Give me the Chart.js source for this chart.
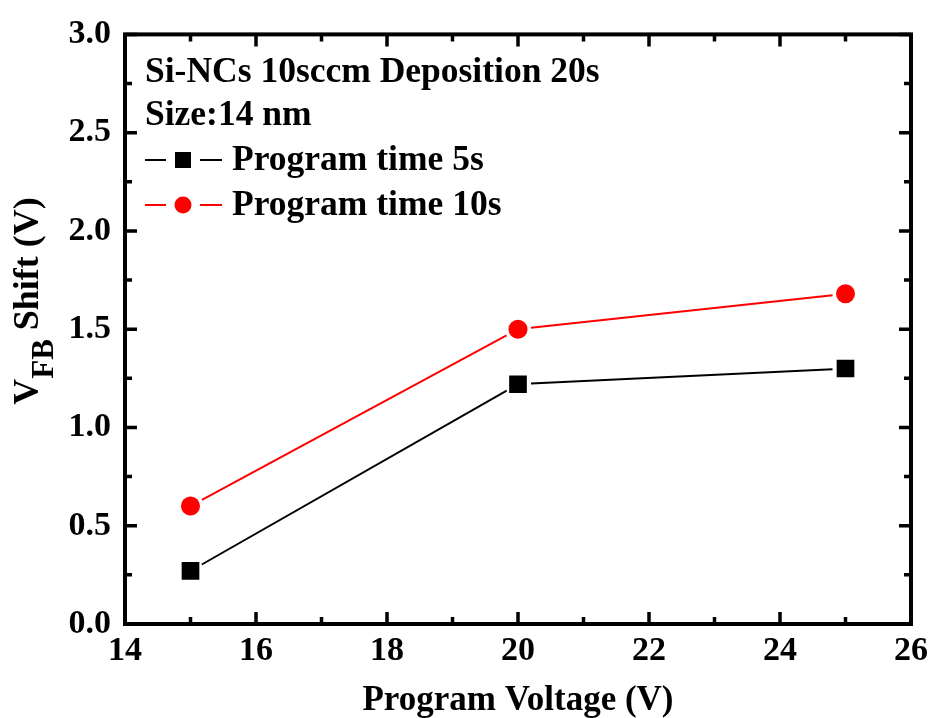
<!DOCTYPE html>
<html><head><meta charset="utf-8">
<script src="https://cdn.jsdelivr.net/npm/chart.js@4"></script>
<style>html,body{margin:0;padding:0;background:#fff}</style>
</head><body>
<canvas id="c" width="935" height="718"></canvas>
<script>
// ---- data ----
const voltages = [15, 20, 25];
const shift5s = [0.27, 1.22, 1.30];
const shift10s = [0.60, 1.50, 1.68];
const seriesLabels = ['Program time 5s', 'Program time 10s'];
const noteLines = ['Si-NCs 10sccm Deposition 20s', 'Size:14 nm'];
const xTitle = 'Program Voltage (V)';
const yTitleMain = 'V';
const yTitleSub = 'FB';
const yTitleRest = ' Shift (V)';
const xRange = [14, 26];
const yRange = [0, 3];

const FONT = '"Liberation Serif", "Times New Roman", serif';

const framePlugin = {
  id: 'frame',
  beforeDatasetsDraw(chart) {
    const ctx = chart.ctx;
    const gap = 13;
    chart.data.datasets.forEach((ds, i) => {
      const pts = chart.getDatasetMeta(i).data;
      ctx.save();
      ctx.strokeStyle = ds.borderColor;
      ctx.lineWidth = 2;
      for (let k = 0; k < pts.length - 1; k++) {
        const a = pts[k], b = pts[k + 1];
        const dx = b.x - a.x, dy = b.y - a.y, d = Math.hypot(dx, dy);
        const ux = dx / d, uy = dy / d;
        ctx.beginPath();
        ctx.moveTo(a.x + ux * gap, a.y + uy * gap);
        ctx.lineTo(b.x - ux * gap, b.y - uy * gap);
        ctx.stroke();
      }
      ctx.restore();
    });
  },
  afterDraw(chart) {
    const ctx = chart.ctx;
    const {left, right, top, bottom} = chart.chartArea;
    const xs = chart.scales.x, ys = chart.scales.y;
    ctx.save();
    ctx.strokeStyle = '#000';
    ctx.lineWidth = 4;
    ctx.strokeRect(left, top, right - left, bottom - top);
    ctx.lineWidth = 3.5;
    ctx.lineCap = 'butt';
    for (let v = xRange[0]; v <= xRange[1]; v += 1) {
      const px = xs.getPixelForValue(v);
      const len = (v % 2 === 0) ? 12 : 7;
      ctx.beginPath();
      ctx.moveTo(px, bottom); ctx.lineTo(px, bottom - len);
      ctx.moveTo(px, top); ctx.lineTo(px, top + len);
      ctx.stroke();
    }
    for (let k = 0; k <= 12; k++) {
      const v = k * 0.25;
      const py = ys.getPixelForValue(v);
      const len = (k % 2 === 0) ? 12 : 7;
      ctx.beginPath();
      ctx.moveTo(left, py); ctx.lineTo(left + len, py);
      ctx.moveTo(right, py); ctx.lineTo(right - len, py);
      ctx.stroke();
    }
    // axis titles
    ctx.fillStyle = '#000';
    ctx.font = 'bold 35px ' + FONT;
    ctx.textAlign = 'center';
    ctx.textBaseline = 'alphabetic';
    ctx.fillText(xTitle, (left + right) / 2, 710);
    // y title with subscript
    ctx.save();
    ctx.translate(38, 301);
    ctx.rotate(-Math.PI / 2);
    ctx.font = 'bold 36px ' + FONT;
    const wMain = ctx.measureText(yTitleMain).width;
    const wRest = ctx.measureText(yTitleRest).width;
    ctx.font = 'bold 31px ' + FONT;
    const wSub = ctx.measureText(yTitleSub).width;
    let x0 = -(wMain + wSub + wRest) / 2;
    ctx.textAlign = 'left';
    ctx.font = 'bold 36px ' + FONT;
    ctx.fillText(yTitleMain, x0, 0);
    ctx.font = 'bold 31px ' + FONT;
    ctx.fillText(yTitleSub, x0 + wMain, 15);
    ctx.font = 'bold 36px ' + FONT;
    ctx.fillText(yTitleRest, x0 + wMain + wSub, 0);
    ctx.restore();
    // notes
    ctx.textAlign = 'left';
    ctx.font = 'bold 35.5px ' + FONT;
    ctx.fillText(noteLines[0], 145, 82);
    ctx.fillText(noteLines[1], 145, 125);
    // legend
    const rows = [160, 205];
    chart.data.datasets.forEach((ds, i) => {
      const y = rows[i];
      ctx.strokeStyle = ds.borderColor;
      ctx.lineWidth = 2;
      ctx.beginPath();
      ctx.moveTo(145, y); ctx.lineTo(166, y);
      ctx.moveTo(200, y); ctx.lineTo(222, y);
      ctx.stroke();
      ctx.fillStyle = ds.pointBackgroundColor;
      if (ds.pointStyle === 'rect') {
        ctx.fillRect(183 - 8, y - 8, 16, 16);
      } else {
        ctx.beginPath(); ctx.arc(183, y, 8.5, 0, Math.PI * 2); ctx.fill();
      }
      ctx.fillStyle = '#000';
      ctx.fillText(ds.label, 232, y + 10);
    });
    ctx.restore();
  }
};

new Chart(document.getElementById('c'), {
  type: 'line',
  data: {
    datasets: [
      {
        label: seriesLabels[0],
        data: voltages.map((v, i) => ({x: v, y: shift5s[i]})),
        showLine: false,
        borderColor: '#000000',
        pointBackgroundColor: '#000000',
        pointBorderColor: '#000000',
        pointBorderWidth: 0,
        pointStyle: 'rect',
        pointRadius: 12.5
      },
      {
        label: seriesLabels[1],
        data: voltages.map((v, i) => ({x: v, y: shift10s[i]})),
        showLine: false,
        borderColor: '#ff0000',
        pointBackgroundColor: '#ff0000',
        pointBorderColor: '#ff0000',
        pointBorderWidth: 0,
        pointStyle: 'circle',
        pointRadius: 9.5
      }
    ]
  },
  options: {
    responsive: false,
    animation: false,
    devicePixelRatio: 1,
    layout: {padding: {left: 0, top: 30, right: 20, bottom: 0}},
    plugins: {legend: {display: false}, tooltip: {enabled: false}},
    scales: {
      x: {
        type: 'linear', min: xRange[0], max: xRange[1],
        grid: {display: false, drawTicks: false},
        border: {display: false},
        ticks: {stepSize: 2, padding: 7, color: '#000', font: {family: FONT, weight: 'bold', size: 34}, maxRotation: 0},
        afterFit(s) { s.height = 94; }
      },
      y: {
        type: 'linear', min: yRange[0], max: yRange[1],
        grid: {display: false, drawTicks: false},
        border: {display: false},
        ticks: {stepSize: 0.5, padding: 14, color: '#000', font: {family: FONT, weight: 'bold', size: 34},
          callback: v => Number(v).toFixed(1)},
        afterFit(s) { s.width = 125; }
      }
    }
  },
  plugins: [framePlugin]
});
</script>
</body></html>
